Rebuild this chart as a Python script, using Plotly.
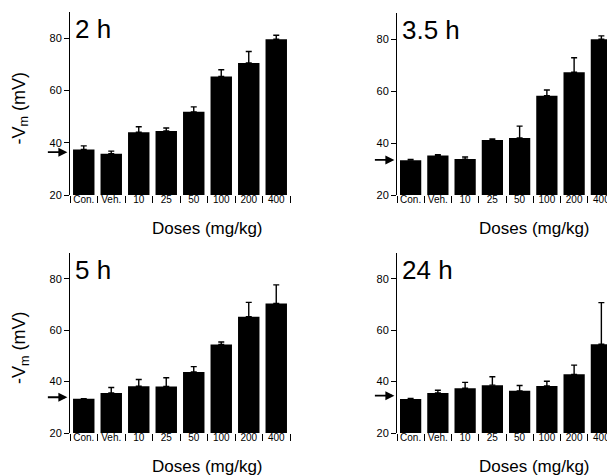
import plotly.graph_objects as go

categories = ["Con.", "Veh.", "10", "25", "50", "100", "200", "400"]
panel_labels = ["2 h", "3.5 h", "5 h", "24 h"]

vm_2h = [37.4, 35.8, 44.0, 44.5, 51.8, 65.3, 70.5, 79.6]
err_2h = [1.4, 1.0, 2.1, 1.1, 1.9, 2.6, 4.4, 1.5]
vm_35h = [33.4, 35.2, 33.8, 41.2, 41.9, 58.2, 67.2, 79.9]
err_35h = [0.3, 0.3, 0.8, 0.4, 4.6, 2.2, 5.6, 1.3]
vm_5h = [33.3, 35.6, 38.2, 38.1, 43.7, 54.4, 65.2, 70.4]
err_5h = [0.0, 2.1, 2.6, 3.4, 2.1, 1.0, 5.6, 7.2]
vm_24h = [33.2, 35.6, 37.4, 38.6, 36.4, 38.3, 42.8, 54.5]
err_24h = [0.2, 1.0, 2.3, 3.3, 2.1, 1.8, 3.6, 16.2]
arrow_levels = [36.4, 33.5, 33.9, 34.5]

values = [vm_2h, vm_35h, vm_5h, vm_24h]
errors = [err_2h, err_35h, err_5h, err_24h]

OFF = 8  # page body margin
W, H = 615 - OFF, 476 - OFF
FONT = "Liberation Sans, Arial, Helvetica, sans-serif"

# pixel boxes in screenshot coordinates: (left, right, top, bottom)
boxes = [(70, 290, 12, 195), (397, 615, 13, 195), (70, 290, 253, 433), (397, 615, 253, 433)]


def px(xp):
    return (xp - OFF) / W


def py(yp):
    return 1 - (yp - OFF) / H


fig = go.Figure()
layout = dict(
    width=W, height=H, margin=dict(l=0, r=0, t=0, b=0, autoexpand=False),
    paper_bgcolor="white", plot_bgcolor="white", showlegend=False,
    bargap=0.22, font=dict(family=FONT, color="black"),
)
annotations = []
for i in range(4):
    sx = "" if i == 0 else str(i + 1)
    fig.add_trace(go.Bar(
        x=categories, y=values[i],
        marker=dict(color="black", line=dict(width=0)),
        error_y=dict(type="data", symmetric=False, array=errors[i],
                     arrayminus=[0] * 8, color="black", thickness=1.4, width=3),
        xaxis="x" + sx, yaxis="y" + sx,
    ))
    l, r, t, b = boxes[i]
    layout["xaxis" + sx] = dict(
        domain=[max(px(l), 0), min(px(r), 1)], anchor="y" + sx, type="category",
        showline=False, ticks="outside", tickson="boundaries", ticklen=7,
        tickwidth=1, tickcolor="black", showgrid=False, zeroline=False,
        tickangle=0, automargin=False,
        tickfont=dict(size=10, family=FONT, color="black"),
        ticklabelstandoff=-3,
    )
    layout["yaxis" + sx] = dict(
        domain=[py(b), py(t)], anchor="x" + sx, range=[20, 90],
        tickvals=[20, 40, 60, 80], showline=True, linecolor="black",
        linewidth=1, ticks="outside", ticklen=5, tickwidth=1,
        tickcolor="black", showgrid=False, zeroline=False, automargin=False,
        tickfont=dict(size=11, family=FONT, color="black"),
    )
    # panel label
    annotations.append(dict(
        text=panel_labels[i], xref="x" + sx + " domain", yref="y" + sx + " domain",
        x=0.015, y=1.0, xanchor="left", yanchor="top", showarrow=False,
        font=dict(size=26, family=FONT, color="black"),
    ))
    # x-axis title
    annotations.append(dict(
        text="Doses (mg/kg)", xref="paper", yref="paper",
        x=px(l + 137), y=py(b + 33), xanchor="center", yanchor="middle",
        showarrow=False, font=dict(size=17, family=FONT, color="black"),
    ))
    # arrow marking reference level
    annotations.append(dict(
        text="", xref="x" + sx + " domain", yref="y" + sx,
        x=-0.012, y=arrow_levels[i], ax=-21, ay=0, showarrow=True,
        arrowhead=2, arrowsize=1, arrowwidth=1.8, arrowcolor="black",
    ))
    if i in (0, 2):
        annotations.append(dict(
            text="-V<sub>m</sub> (mV)", xref="paper", yref="paper",
            x=px(20), y=py((t + b) / 2 + 5), textangle=-90,
            xanchor="center", yanchor="middle", showarrow=False,
            font=dict(size=18, family=FONT, color="black"),
        ))

layout["annotations"] = annotations
fig.update_layout(**layout)
fig.write_html("out.html")
